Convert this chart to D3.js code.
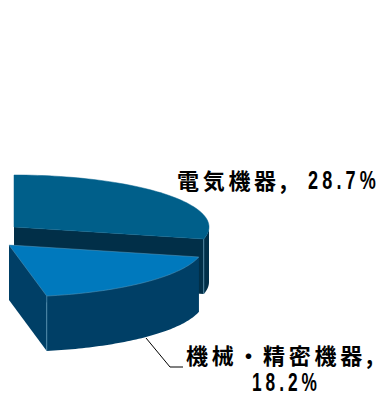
<!DOCTYPE html>
<html>
<head>
<meta charset="utf-8">
<script src="https://cdn.jsdelivr.net/npm/d3@7/dist/d3.min.js"></script>
<style>
html,body{margin:0;padding:0;background:#fff;}
svg{display:block;}
text{font-weight:700;fill:#000;}
.kanji{font-family:"Noto Sans CJK JP",sans-serif;font-size:22px;letter-spacing:3.7px;}
.figure{font-family:"Liberation Sans",sans-serif;font-size:26px;letter-spacing:6px;}
</style>
</head>
<body>
<svg id="chart" width="378" height="394"></svg>
<script>
// Share of exports by product group; only the two labelled sectors are drawn.
const categories = ["電気機器", "機械・精密機器", "その他"];
const shares = [28.7, 18.2, 53.1];
const topColors = ["#005f8a", "#0079bd"];
const outerColors = ["#012f48", "#003f66"];
const cutColors = ["#012f48", "#003f66"];
const rimColor = "#5f9dbd";

const rx = 195, ry = 52, depth = 55;
const centres = [{x: 14, y: 227}, {x: 9, y: 245}];

const svg = d3.select("#chart");
const arcs = d3.pie().sort(null).value(d => d)(shares).slice(0, 2);

// Maps pie angles onto the tilted ellipse of the disc.
const unitX = d3.scaleLinear().domain([0, 1]).range([0, rx]);
const unitY = d3.scaleLinear().domain([0, 1]).range([0, -ry]);
const project = (c, a, drop = 0) => [c.x + unitX(Math.sin(a)), c.y + unitY(Math.cos(a)) + drop];
const rim = (c, a0, a1, drop = 0, n = 60) =>
  d3.range(n + 1).map(i => project(c, a0 + (a1 - a0) * i / n, drop));
const line = d3.line();
const closed = pts => line(pts) + "Z";

function drawSector(arc, i) {
  const c = centres[i], a0 = arc.startAngle, a1 = arc.endAngle;
  const g = svg.append("g").attr("class", "sector");
  const apex = [c.x, c.y], apexLow = [c.x, c.y + depth];

  // Flat cut faces running down from the apex.
  [a0, a1].forEach(a => {
    g.append("path")
      .attr("d", closed([apex, project(c, a), project(c, a, depth), apexLow]))
      .attr("fill", cutColors[i]);
  });
  // Visible part of the curved wall: the half facing the viewer.
  const wallStart = Math.max(a0, Math.PI / 2);
  const wallEnd = Math.min(a1, Math.PI * 1.5);
  g.append("path")
    .attr("d", closed(rim(c, wallStart, wallEnd).concat(rim(c, wallStart, wallEnd, depth).reverse())))
    .attr("fill", outerColors[i]);
  // Thin highlight at the seam between wall and cut face.
  g.append("path")
    .attr("d", line([project(c, a1), project(c, a1, depth)]))
    .attr("stroke", rimColor).attr("stroke-width", 0.7).attr("fill", "none");
  // Top surface of the sector.
  g.append("path")
    .attr("d", closed([apex].concat(rim(c, a0, a1))))
    .attr("fill", topColors[i])
    .attr("stroke", i === 0 ? topColors[i] : rimColor)
    .attr("stroke-width", 0.5);
}
arcs.forEach(drawSector);

// Leader line for the lower label.
svg.append("path")
  .attr("d", line([[146, 338], [170, 367], [183, 367]]))
  .attr("fill", "none").attr("stroke", "#000").attr("stroke-width", 1);

// Labels: category names in the CJK face, figures condensed to a narrow set width.
const fmt = v => v.toFixed(1) + "%";
const labels = [
  {t: categories[0] + ",", x: 177, y: 189, c: "kanji"},
  {t: fmt(shares[0]), x: 308, y: 189, c: "figure", w: 72},
  {t: categories[1] + ",", x: 186, y: 364, c: "kanji"},
  {t: fmt(shares[1]), x: 252, y: 391, c: "figure", w: 69}
];
svg.selectAll("text.label").data(labels).join("text")
  .attr("class", d => "label " + d.c)
  .attr("x", d => d.x)
  .attr("y", d => d.y)
  .attr("textLength", d => d.w)
  .attr("lengthAdjust", d => d.w ? "spacingAndGlyphs" : null)
  .text(d => d.t);
</script>
</body>
</html>
